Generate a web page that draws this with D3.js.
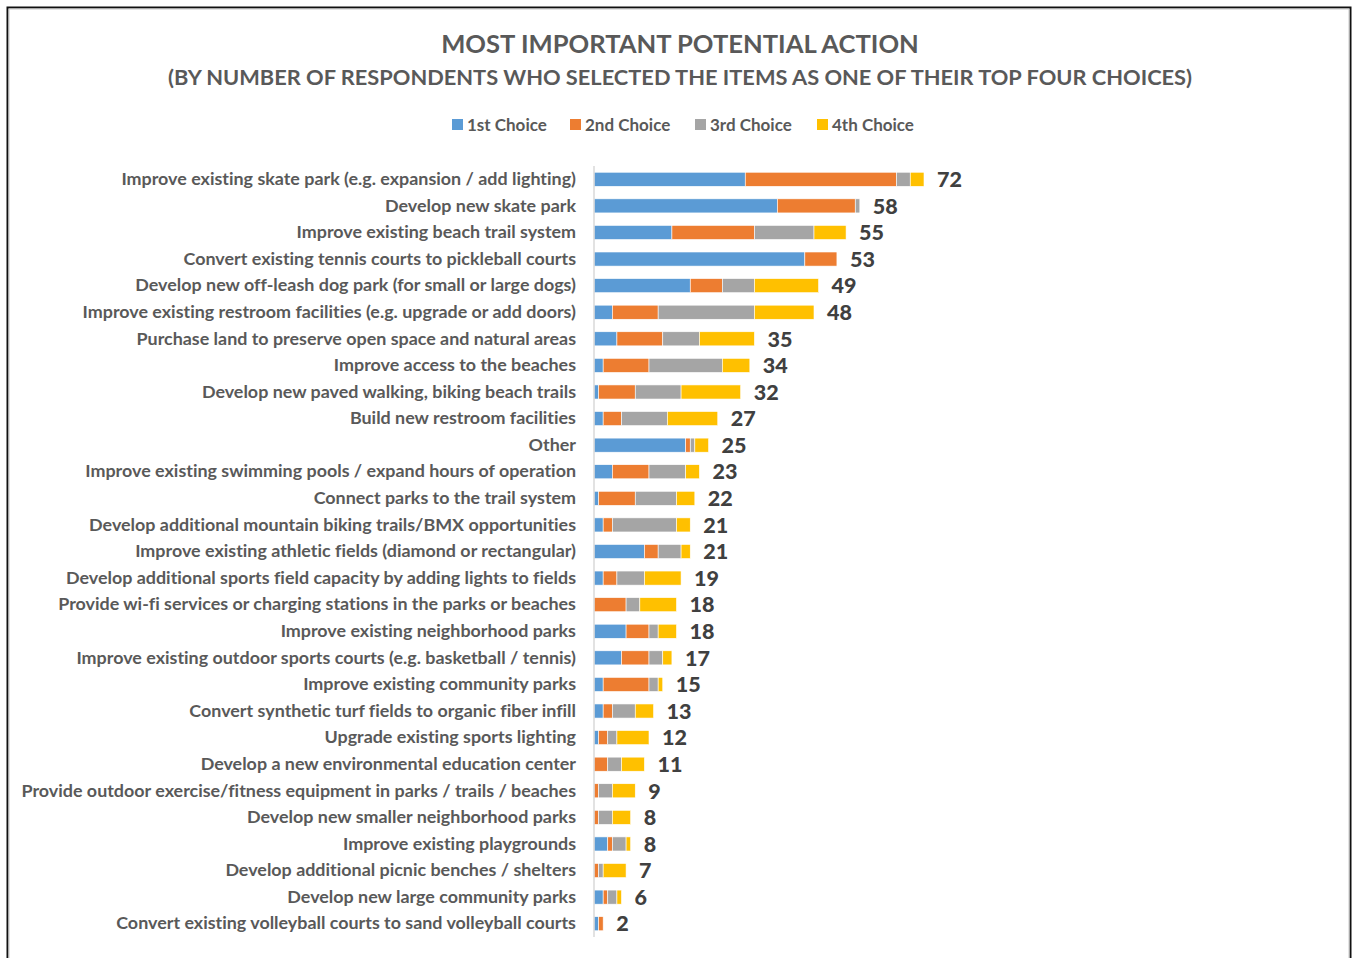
<!DOCTYPE html>
<html>
<head>
<meta charset="utf-8">
<script src="https://cdn.jsdelivr.net/npm/d3@7"></script>
<style>
  html, body { margin: 0; padding: 0; background: #fff; }
  svg { display: block; }
  text { font-family: Lato, "Open Sans", sans-serif; font-variant-ligatures: none; font-feature-settings: "liga" 0; }
</style>
</head>
<body>
<svg id="chart" width="1353" height="958"></svg>
<script>
// Survey items, top to bottom
const categories = [
  "Improve existing skate park (e.g. expansion / add lighting)",
  "Develop new skate park",
  "Improve existing beach trail system",
  "Convert existing tennis courts to pickleball courts",
  "Develop new off-leash dog park (for small or large dogs)",
  "Improve existing restroom facilities (e.g. upgrade or add doors)",
  "Purchase land to preserve open space and natural areas",
  "Improve access to the beaches",
  "Develop new paved walking, biking beach trails",
  "Build new restroom facilities",
  "Other",
  "Improve existing swimming pools / expand hours of operation",
  "Connect parks to the trail system",
  "Develop additional mountain biking trails/BMX opportunities",
  "Improve existing athletic fields (diamond or rectangular)",
  "Develop additional sports field capacity by adding lights to fields",
  "Provide wi-fi services or charging stations in the parks or beaches",
  "Improve existing neighborhood parks",
  "Improve existing outdoor sports courts (e.g. basketball / tennis)",
  "Improve existing community parks",
  "Convert synthetic turf fields to organic fiber infill",
  "Upgrade existing sports lighting",
  "Develop a new environmental education center",
  "Provide outdoor exercise/fitness equipment in parks / trails / beaches",
  "Develop new smaller neighborhood parks",
  "Improve existing playgrounds",
  "Develop additional picnic benches / shelters",
  "Develop new large community parks",
  "Convert existing volleyball courts to sand volleyball courts"
];

const seriesNames = ["1st Choice", "2nd Choice", "3rd Choice", "4th Choice"];

const firstChoice  = [33, 40, 17, 46, 21,  4,  5,  2,  1,  2, 20,  4,  1,  2, 11,  2, 0, 7, 6,  2, 2, 1, 0, 0, 0, 3, 0, 2, 1];
const secondChoice = [33, 17, 18,  7,  7, 10, 10, 10,  8,  4,  1,  8,  8,  2,  3,  3, 7, 5, 6, 10, 2, 2, 3, 1, 1, 1, 1, 1, 1];
const thirdChoice  = [ 3,  1, 13,  0,  7, 21,  8, 16, 10, 10,  1,  8,  9, 14,  5,  6, 3, 2, 3,  2, 5, 2, 3, 3, 3, 3, 1, 2, 0];
const fourthChoice = [ 3,  0,  7,  0, 14, 13, 12,  6, 13, 11,  3,  3,  4,  3,  2,  8, 8, 4, 2,  1, 4, 7, 5, 5, 4, 1, 5, 1, 0];

const totals = [72, 58, 55, 53, 49, 48, 35, 34, 32, 27, 25, 23, 22, 21, 21, 19, 18, 18, 17, 15, 13, 12, 11, 9, 8, 8, 7, 6, 2];

const colors = ["#5B9BD5", "#ED7D31", "#A5A5A5", "#FFC000"];

const rows = categories.map((c, i) => ({
  category: c,
  "1st Choice": firstChoice[i],
  "2nd Choice": secondChoice[i],
  "3rd Choice": thirdChoice[i],
  "4th Choice": fourthChoice[i],
  total: totals[i]
}));

const svg = d3.select("#chart");

// Outer frame
svg.append("rect")
  .attr("x", 7.5).attr("y", 7.5)
  .attr("width", 1343).attr("height", 960)
  .attr("fill", "#fff")
  .attr("stroke", "#111").attr("stroke-width", 2);
svg.append("rect")
  .attr("x", 9).attr("y", 9)
  .attr("width", 1340).attr("height", 960)
  .attr("fill", "none")
  .attr("stroke", "#c8c8c8").attr("stroke-width", 1);

// Titles
svg.append("text")
  .attr("x", 680).attr("y", 53)
  .attr("text-anchor", "middle")
  .attr("fill", "#595959")
  .attr("font-size", 25.6).attr("font-weight", 700)
  .text("MOST IMPORTANT POTENTIAL ACTION");
svg.append("text")
  .attr("x", 680).attr("y", 85)
  .attr("text-anchor", "middle")
  .attr("fill", "#595959")
  .attr("font-size", 21.8).attr("font-weight", 700)
  .text("(BY NUMBER OF RESPONDENTS WHO SELECTED THE ITEMS AS ONE OF THEIR TOP FOUR CHOICES)");

// Scales
const x = d3.scaleLinear().domain([0, 72]).range([594, 924]);
const y = d3.scaleBand().domain(categories).range([166, 937]).paddingInner(0.47).paddingOuter(0.235);

// Stacked series
const stacked = d3.stack().keys(seriesNames)(rows);

const layers = svg.append("g").selectAll("g")
  .data(stacked)
  .join("g")
  .attr("fill", (d, i) => colors[i]);

layers.selectAll("rect")
  .data(d => d.filter(s => s[1] - s[0] > 0))
  .join("rect")
  .attr("x", d => x(d[0]))
  .attr("y", d => y(d.data.category))
  .attr("width", d => x(d[1]) - x(d[0]))
  .attr("height", y.bandwidth())
  .attr("stroke", "#fff")
  .attr("stroke-width", 0.6);

// Category axis
const gy = svg.append("g")
  .attr("transform", `translate(${x(0)},0)`)
  .call(d3.axisLeft(y).tickSize(0).tickPadding(18));
gy.select(".domain").attr("stroke", "#d9d9d9").attr("stroke-width", 1.5)
  .attr("d", "M0,166V937");
gy.selectAll("text")
  .attr("fill", "#595959")
  .attr("font-size", 17.9)
  .attr("font-weight", 700)
  .attr("font-family", "Lato, sans-serif");

// Total labels
svg.append("g").selectAll("text")
  .data(rows)
  .join("text")
  .attr("x", d => x(d.total) + 13)
  .attr("y", d => y(d.category) + y.bandwidth() / 2)
  .attr("dy", "0.36em")
  .attr("fill", "#404040")
  .attr("font-size", 21.5)
  .attr("font-weight", 900)
  .text(d => d.total);

// Legend
const legendX = [452, 570, 695, 817];
const legend = svg.append("g").selectAll("g")
  .data(seriesNames)
  .join("g")
  .attr("transform", (d, i) => `translate(${legendX[i]},119)`);
legend.append("rect")
  .attr("width", 11).attr("height", 11)
  .attr("fill", (d, i) => colors[i]);
legend.append("text")
  .attr("x", 15).attr("y", 6)
  .attr("dy", "0.36em")
  .attr("fill", "#595959")
  .attr("font-size", 17)
  .attr("font-weight", 700)
  .text(d => d);
</script>
</body>
</html>
